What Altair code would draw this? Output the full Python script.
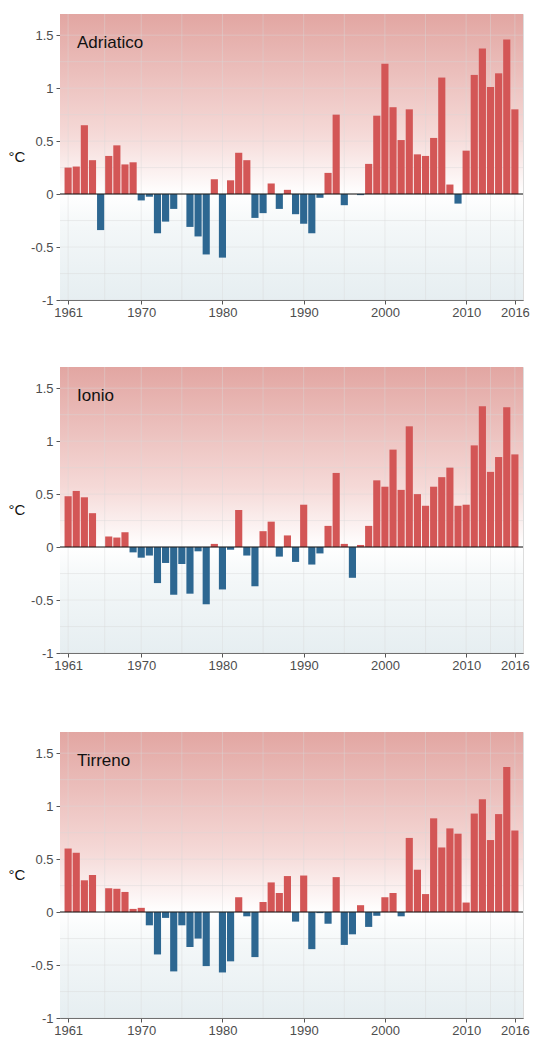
import altair as alt
import pandas as pd

years = list(range(1961, 2017))

adriatico = [0.25, 0.26, 0.65, 0.32, -0.34, 0.36, 0.46, 0.28, 0.30, -0.06,
             -0.025, -0.37, -0.26, -0.14, 0.0, -0.31, -0.40, -0.57, 0.14, -0.60,
             0.13, 0.39, 0.32, -0.225, -0.18, 0.10, -0.14, 0.04, -0.19, -0.28,
             -0.37, -0.035, 0.20, 0.75, -0.105, 0.0, -0.01, 0.285, 0.74, 1.23,
             0.82, 0.51, 0.80, 0.375, 0.36, 0.53, 1.10, 0.09, -0.09, 0.41,
             1.125, 1.375, 1.01, 1.14, 1.46, 0.80]

ionio = [0.48, 0.53, 0.47, 0.32, 0.0, 0.10, 0.09, 0.14, -0.05, -0.10,
         -0.08, -0.34, -0.15, -0.45, -0.16, -0.44, -0.04, -0.54, 0.03, -0.40,
         -0.025, 0.35, -0.08, -0.37, 0.15, 0.24, -0.09, 0.11, -0.14, 0.40,
         -0.165, -0.06, 0.20, 0.70, 0.03, -0.29, 0.02, 0.20, 0.63, 0.57,
         0.92, 0.54, 1.14, 0.50, 0.39, 0.57, 0.66, 0.75, 0.39, 0.40,
         0.96, 1.33, 0.71, 0.85, 1.32, 0.875]

tirreno = [0.60, 0.56, 0.30, 0.35, 0.0, 0.225, 0.22, 0.19, 0.03, 0.04,
           -0.125, -0.40, -0.055, -0.56, -0.125, -0.33, -0.25, -0.51, 0.0, -0.57,
           -0.465, 0.14, -0.04, -0.425, 0.095, 0.28, 0.18, 0.34, -0.09, 0.345,
           -0.35, -0.01, -0.11, 0.33, -0.31, -0.21, 0.065, -0.14, -0.035, 0.14,
           0.18, -0.04, 0.70, 0.40, 0.17, 0.885, 0.61, 0.79, 0.74, 0.09,
           0.93, 1.065, 0.68, 0.925, 1.37, 0.77]

x_ticks = [1961, 1970, 1980, 1990, 2000, 2010, 2016]
x_grid = [1961, 1965.5, 1970, 1975, 1980, 1985, 1990, 1995, 2000, 2005, 2010, 2013, 2016]
y_ticks = [-1, -0.5, 0, 0.5, 1, 1.5]
y_grid = [-1, -0.75, -0.5, -0.25, 0, 0.25, 0.5, 0.75, 1, 1.25, 1.5]

RED = "#d35656"
BLUE = "#2d6791"
FONT = "Liberation Sans"
W, H = 463, 286

xscale = alt.Scale(domain=[1960, 2017], nice=False, zero=False)
yscale = alt.Scale(domain=[-1, 1.7], nice=False, zero=False)

XAXIS = alt.Axis(values=x_ticks, format="d", grid=False, title=None,
                 labelFont=FONT, labelFontSize=13, labelColor="#4d4d4d",
                 tickColor="#555555", domainColor="#555555", tickSize=4,
                 labelPadding=2, labelFlush=False)
YAXIS = alt.Axis(values=y_ticks, labelExpr="'' + datum.value", grid=False,
                 title=None,
                 labelFont=FONT, labelFontSize=13, labelColor="#4d4d4d",
                 tickColor="#555555", domainColor="#555555", tickSize=4,
                 labelPadding=3, labelFlush=False)

gradient = alt.LinearGradient(
    gradient="linear",
    stops=[
        alt.GradientStop(color="#e2a6a2", offset=0),
        alt.GradientStop(color="#f5d9d7", offset=0.42),
        alt.GradientStop(color="#ffffff", offset=0.63),
        alt.GradientStop(color="#f3f7f8", offset=0.75),
        alt.GradientStop(color="#e6eef1", offset=1),
    ],
    x1=0, x2=0, y1=0, y2=1,
)


def panel(name, values):
    df = pd.DataFrame({"year": years, "v": values})

    bg = alt.Chart(alt.Data(values=[{}])).mark_rect(color=gradient).encode(
        x=alt.value(0), x2=alt.value("width"), y=alt.value(0), y2=alt.value("height")
    )

    vgrid = alt.Chart(pd.DataFrame({"x0": x_grid})).mark_rule(
        color="#d8d8d8", strokeWidth=0.7, opacity=0.6
    ).encode(x=alt.X("x0:Q", scale=xscale, axis=XAXIS))

    hgrid = alt.Chart(pd.DataFrame({"v": y_grid})).mark_rule(
        color="#d8d8d8", strokeWidth=0.7, opacity=0.6
    ).encode(y=alt.Y("v:Q", scale=yscale, axis=YAXIS))

    bars = alt.Chart(df).transform_calculate(
        x0="datum.year - 0.44", x1="datum.year + 0.44"
    ).mark_bar().encode(
        x=alt.X("x0:Q", scale=xscale, axis=XAXIS),
        x2="x1:Q",
        y=alt.Y("v:Q", scale=yscale, axis=YAXIS),
        y2=alt.datum(0),
        color=alt.condition("datum.v > 0", alt.value(RED), alt.value(BLUE)),
    )

    zero = alt.Chart(alt.Data(values=[{}])).mark_rule(color="#111111", strokeWidth=1.1).encode(
        y=alt.datum(0, scale=yscale, axis=YAXIS)
    )

    label = alt.Chart(alt.Data(values=[{"t": name}])).mark_text(
        align="left", baseline="alphabetic", font=FONT, fontSize=17, color="#111111"
    ).encode(x=alt.value(17), y=alt.value(34), text="t:N")

    unit = alt.Chart(alt.Data(values=[{"t": "°C"}])).mark_text(
        align="center", baseline="middle", font=FONT, fontSize=15, color="#111111"
    ).encode(x=alt.value(-43), y=alt.value(H / 2), text="t:N")

    return alt.layer(bg, vgrid, hgrid, bars, zero, label, unit).properties(width=W, height=H)


p1 = panel("Adriatico", adriatico)
p2 = panel("Ionio", ionio)
p3 = panel("Tirreno", tirreno)

chart = alt.vconcat(
    alt.vconcat(p1, p2, spacing=46), p3, spacing=58
).properties(
    padding={"left": 0, "top": 5, "right": 0, "bottom": 0}
).configure_view(
    stroke="#8a8a8a", strokeWidth=1
).configure(background="white")

chart.save("out.html", embed_options={"renderer": "svg", "actions": False})
